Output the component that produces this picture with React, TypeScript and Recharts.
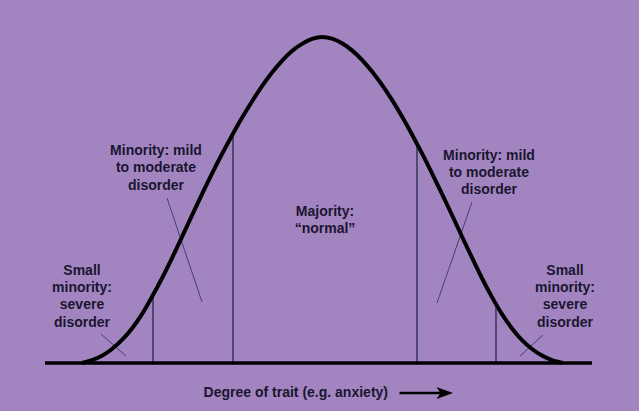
import React from "react";
import { ComposedChart, Line, XAxis, YAxis, ReferenceLine, ReferenceDot } from "recharts";

// Bell curve: x in trait units (0 = the mean), y in % of peak height.
const curveX = [
  -2.4, -2.3, -2.2, -2.1, -2.0, -1.9, -1.8, -1.7, -1.6, -1.5, -1.4, -1.3, -1.2, -1.1, -1.0, -0.9, -0.8, -0.7, -0.6,
  -0.5, -0.4, -0.3, -0.2, -0.1, 0, 0.1, 0.2, 0.3, 0.4, 0.5, 0.6, 0.7, 0.8, 0.9, 1.0, 1.1, 1.2, 1.3, 1.4, 1.5, 1.6,
  1.7, 1.8, 1.9, 2.0, 2.1, 2.2, 2.3, 2.41,
];
const curveY = [
  0, 0.9, 2.2, 4.3, 7.1, 10.6, 15.0, 20.3, 26.0, 32.2, 38.7, 45.3, 51.8, 58.1, 64.1, 69.8, 75.2, 80.2, 84.9, 89.1,
  92.7, 95.7, 97.9, 99.4, 100, 99.5, 98.1, 95.9, 93.0, 89.4, 85.3, 80.7, 75.6, 70.1, 64.3, 58.2, 51.9, 45.4, 38.8,
  32.3, 26.0, 20.2, 15.0, 10.6, 7.0, 4.3, 2.3, 0.9, 0,
];

// Group boundaries: vertical lines from the baseline up to the curve
const dividerX = [-1.69, -0.89, 0.95, 1.74];
const dividerTop = [20.8, 70.3, 67.3, 18.2];

// Thin pointer strokes from the labels into each region
const pointers = [
  [[-1.55, 50.6], [-1.2, 18.7]],
  [[-2.21, 8.9], [-1.96, 2.1]],
  [[1.5, 49.4], [1.15, 18.4]],
  [[2.21, 8.6], [1.98, 2.1]],
];

const noteX = [-1.66, -2.4, 1.67, 2.43, 0.03];
const noteY = [65.3, 28.5, 63.8, 28.5, 46.6];
const noteLines = [
  ["Minority: mild", "to moderate", "disorder"],
  ["Small", "minority:", "severe", "disorder"],
  ["Minority: mild", "to moderate", "disorder"],
  ["Small", "minority:", "severe", "disorder"],
  ["Majority:", "\u201cnormal\u201d"],
];

const xTitle = "Degree of trait (e.g. anxiety)";

const BG = "#a285c0";
const INK = "#1b1530";
const DIVIDER = "#3e3763";
const FONT = "'Liberation Sans', Arial, Helvetica, sans-serif";

const data = curveX.map((x, i) => ({ x, y: curveY[i] }));

function Note({ cx, cy, lines }: { cx: number; cy: number; lines: string[] }) {
  return (
    <text
      x={cx}
      y={cy}
      textAnchor="middle"
      dominantBaseline="central"
      fill={INK}
      fontFamily={FONT}
      fontWeight={700}
      fontSize={14}
    >
      {lines.map((l, i) => (
        <tspan key={i} x={cx} dy={i === 0 ? 0 : 17.2} dominantBaseline="central">
          {l}
        </tspan>
      ))}
    </text>
  );
}

function AxisTitle(props: any) {
  const vb = props.viewBox ?? { x: 45, y: 363, width: 547, height: 48 };
  const mid = vb.x + vb.width / 2;
  const y = vb.y + 29;
  return (
    <g>
      <text
        x={mid + 69.5}
        y={y}
        textAnchor="end"
        dominantBaseline="central"
        fill={INK}
        fontFamily={FONT}
        fontWeight={700}
        fontSize={14}
      >
        {xTitle}
      </text>
      <line x1={mid + 81} y1={y + 1} x2={mid + 126} y2={y + 1} stroke="#000" strokeWidth={2.6} />
      <path
        d={`M${mid + 134.5},${y + 1} L${mid + 118},${y - 5} L${mid + 122},${y + 1} L${mid + 118},${y + 7} Z`}
        fill="#000"
      />
    </g>
  );
}

export default function App() {
  return (
    <div style={{ position: "absolute", left: 0, top: 0, width: 639, height: 411, background: BG }}>
      <ComposedChart width={639} height={411} data={data} margin={{ top: 37, right: 47, bottom: 0, left: 45 }}>
        <XAxis
          type="number"
          dataKey="x"
          domain={[-2.77, 2.7]}
          height={48}
          axisLine={false}
          tickLine={false}
          tick={false}
          label={{ content: (p: any) => <AxisTitle {...p} /> }}
        />
        <YAxis type="number" domain={[0, 100]} hide />
        {dividerX.map((x, i) => (
          <ReferenceLine
            key={x}
            segment={[
              { x, y: 0 },
              { x, y: dividerTop[i] },
            ]}
            stroke={DIVIDER}
            strokeWidth={1.6}
          />
        ))}
        {pointers.map((seg, i) => (
          <ReferenceLine
            key={`p${i}`}
            segment={[
              { x: seg[0][0], y: seg[0][1] },
              { x: seg[1][0], y: seg[1][1] },
            ]}
            stroke={DIVIDER}
            strokeWidth={0.9}
          />
        ))}
        <ReferenceLine y={0} stroke="#000" strokeWidth={3.6} />
        <Line
          type="monotone"
          dataKey="y"
          stroke="#000"
          strokeWidth={4}
          dot={false}
          activeDot={false}
          isAnimationActive={false}
        />
        {noteX.map((x, i) => (
          <ReferenceDot
            key={`n${i}`}
            x={x}
            y={noteY[i]}
            r={0}
            ifOverflow="visible"
            shape={(p: any) => <Note cx={p.cx} cy={p.cy} lines={noteLines[i]} />}
          />
        ))}
      </ComposedChart>
    </div>
  );
}
